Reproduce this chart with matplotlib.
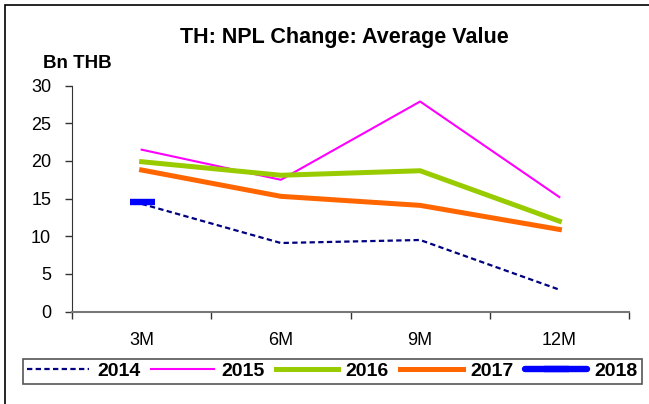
import matplotlib.pyplot as plt
from matplotlib.patches import Rectangle

plt.rcParams['font.family'] = ['Liberation Sans', 'DejaVu Sans']

periods = ['3M', '6M', '9M', '12M']
npl_2014 = [14.3, 9.1, 9.5, 2.9]
npl_2015 = [21.5, 17.5, 27.9, 15.2]
npl_2016 = [19.9, 18.1, 18.7, 12.0]
npl_2017 = [18.8, 15.3, 14.1, 10.9]
npl_2018 = [14.5]

fig = plt.figure(figsize=(6.49, 4.04), dpi=100)
# outer chart frame (only left/top edges fall inside the image)
fig.patches.append(Rectangle((5/649, -0.1), 1.2, (404-5)/404 + 0.1,
                             transform=fig.transFigure, fill=False,
                             edgecolor='black', linewidth=1.2))

ax = fig.add_axes([72/649, (404-311.5)/404, (629-72)/649, (311.5-85.7)/404])
x = list(range(len(periods)))

ax.plot(x, npl_2014, color='#000080', lw=1.6, ls=(0, (2.4, 1.5)), label='2014')
ax.plot(x, npl_2015, color='#FF00FF', lw=1.5, label='2015')
ax.plot(x, npl_2016, color='#99CC00', lw=3.6, label='2016')
ax.plot(x, npl_2017, color='#FF6600', lw=3.6, label='2017')
ax.plot(x[:len(npl_2018)], npl_2018, color='#0000FF', lw=4.6, marker='_',
        markersize=18, markeredgewidth=4.6, solid_capstyle='round', label='2018')

ax.set_xlim(-0.5, 3.5)
ax.set_ylim(0, 30)
ax.set_yticks(range(0, 31, 5))
ax.set_xticks(x)
ax.set_xticklabels(periods)
ax.set_xticks([-0.5, 0.5, 1.5, 2.5, 3.5], minor=True)
ax.tick_params(axis='x', which='major', length=0, pad=15, labelsize=13)
ax.tick_params(axis='x', which='minor', length=5, width=1, color='#333333')
ax.tick_params(axis='y', length=5, width=1, pad=10, labelsize=13, color='#333333')
for s in ['top', 'right']:
    ax.spines[s].set_visible(False)
ax.spines['left'].set_color('#333333')
ax.spines['bottom'].set_color('#777777')
ax.spines['bottom'].set_linewidth(1.5)

fig.text(344/649, 1 - 37/404, 'TH: NPL Change: Average Value', ha='center', va='center',
         fontsize=15.5, fontweight='bold')
fig.text(43/649, 1 - 63/404, 'Bn THB', ha='left', va='center',
         fontsize=13.5, fontweight='bold')

leg = fig.legend(loc='lower left', bbox_to_anchor=(23/649, (404-384)/404, (642-23)/649, 25/404),
                 mode='expand', ncol=5, fancybox=False, framealpha=1,
                 edgecolor='#555555', handlelength=3.2, handletextpad=0.4,
                 borderpad=0.2, borderaxespad=0, prop={'weight': 'bold', 'size': 14})
leg.get_frame().set_linewidth(1.2)

fig.savefig('out.png', dpi=100)
